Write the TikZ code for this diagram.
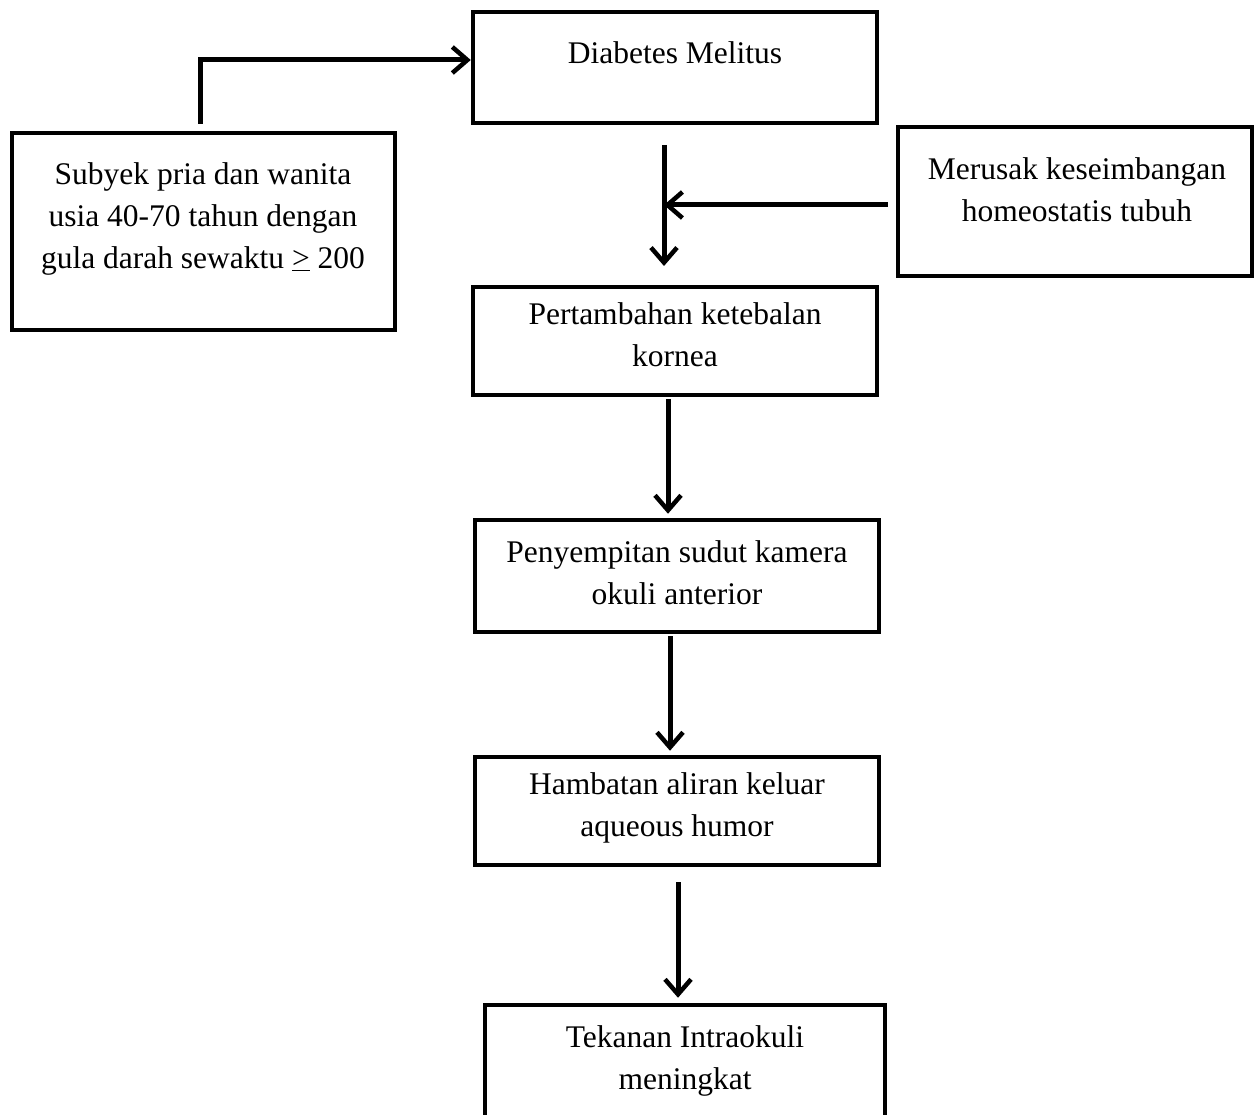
\documentclass[tikz,border=0pt]{standalone}
\usepackage{fontspec}
\setmainfont{Liberation Serif}
\usetikzlibrary{arrows.meta}
\begin{document}
\begin{tikzpicture}[x=1pt,y=-1pt,
  box/.style={draw,line width=4.5pt,rectangle,inner sep=0pt},
  txt/.style={align=center,inner sep=0pt,font=\fontsize{31.5}{42}\selectfont},
  arr/.style={line width=5pt,-{Straight Barb[length=15pt,width=26pt,line width=4.5pt]}}]
\useasboundingbox (0,0) rectangle (1255,1115);
\fill[white] (0,0) rectangle (1255,1115);
\begin{scope}
\clip (0,0) rectangle (1255,1115);
% boxes
\node[box,minimum width=404,minimum height=111] (dm) at (675,67.5) {};
\node[box,minimum width=383,minimum height=197] (sub) at (203.5,231.5) {};
\node[box,minimum width=354,minimum height=149] (mer) at (1075,201.5) {};
\node[box,minimum width=404,minimum height=108] (pert) at (675,341) {};
\node[box,minimum width=404,minimum height=112] (peny) at (677,576) {};
\node[box,minimum width=404,minimum height=108] (hamb) at (677,811) {};
\node[box,minimum width=400,minimum height=130] (tek) at (685,1070) {};
% texts
\node[txt] (tdm) at (675,53) {Diabetes Melitus};
\node[txt] (tsub) at (203,219) {Subyek pria dan wanita\\usia 40-70 tahun dengan\\gula darah sewaktu \underline{>} 200};
\node[txt] (tmer) at (1077,190) {Merusak keseimbangan\\homeostatis tubuh};
\node[txt] (tpert) at (675,335) {Pertambahan ketebalan\\kornea};
\node[txt] (tpeny) at (677,573) {Penyempitan sudut kamera\\okuli anterior};
\node[txt] (thamb) at (677,808) {Hambatan aliran keluar\\aqueous humor};
\node[txt] (ttek) at (685,1061) {Tekanan Intraokuli\\meningkat};
% connectors
\coordinate (c1) at (200,124);
\draw[arr] (c1) |- (dm.west |- 0,60);
\coordinate (c2) at (664,145);
\coordinate (c3) at (664,266);
\draw[arr] (c2) -- (c3);
\coordinate (c4) at (664,205);
\draw[arr] (mer.west |- 0,205) ++(-8,0) -- (c4);
\draw[arr] (pert.south -| 668,0) ++(0,2) -- ([yshift=4pt]peny.north -| 668,0);
\draw[arr] (peny.south -| 670,0) ++(0,2) -- ([yshift=4pt]hamb.north -| 670,0);
\draw[arr] ([yshift=-15pt]hamb.south -| 678,0) -- ([yshift=5pt]tek.north -| 678,0);
\end{scope}
\end{tikzpicture}
\end{document}
